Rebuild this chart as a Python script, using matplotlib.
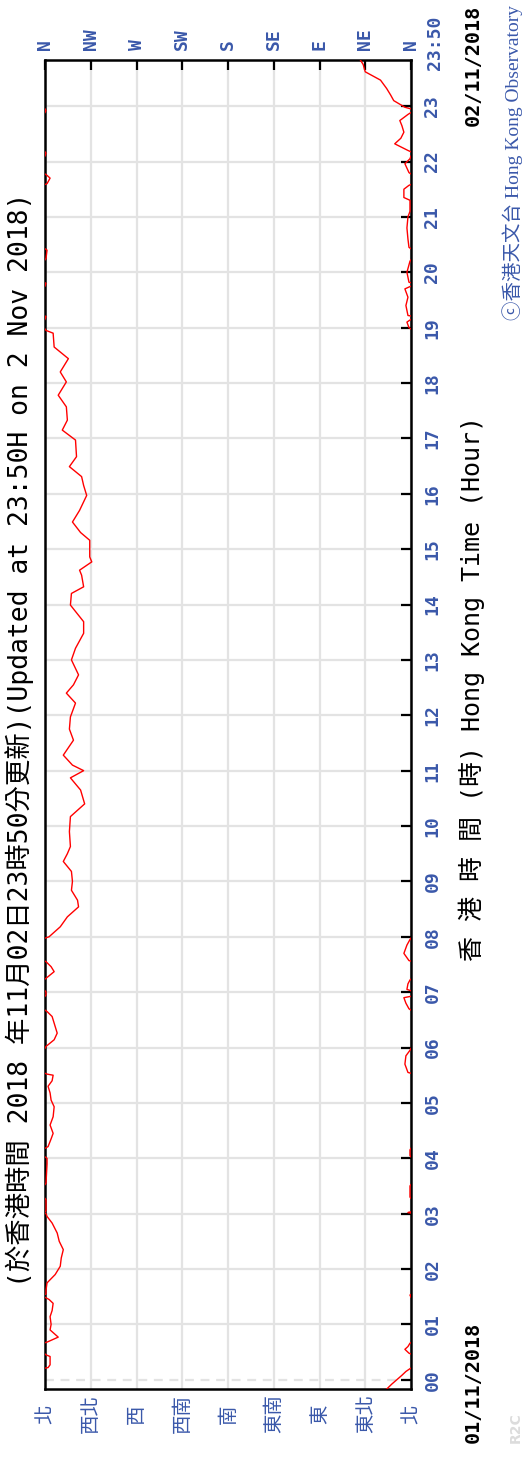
import numpy as np
import matplotlib
matplotlib.use('Agg')
from matplotlib import pyplot as plt
from matplotlib import transforms

# wind direction (deg) against Hong Kong time (hour)
hours = [-0.17, -0.08, 0.00, 0.08, 0.15, 0.20, 0.22, 0.27, 0.42, 0.45,
         0.48, 0.55, 0.60, 0.66, 0.68, 0.77, 0.85, 0.90, 1.00, 1.14,
         1.25, 1.38, 1.45, 1.53, 1.55, 1.62, 1.75, 1.90, 2.05, 2.20,
         2.35, 2.50, 2.65, 2.83, 2.95, 3.00, 3.02, 3.05, 3.25, 3.30,
         3.50, 3.55, 3.90, 4.00, 4.05, 4.15, 4.21, 4.35, 4.45, 4.60,
         4.75, 4.93, 5.05, 5.18, 5.30, 5.40, 5.50, 5.52, 5.55, 5.70,
         5.85, 5.95, 6.02, 6.14, 6.26, 6.38, 6.56, 6.65, 6.70, 6.80,
         6.90, 6.95, 7.00, 7.05, 7.15, 7.22, 7.25, 7.37, 7.46, 7.55,
         7.57, 7.70, 7.85, 7.95, 8.00, 8.18, 8.36, 8.54, 8.66, 8.84,
         9.00, 9.18, 9.36, 9.50, 9.63, 9.90, 10.17, 10.40, 10.65, 10.87,
         11.00, 11.10, 11.28, 11.55, 11.75, 11.97, 12.22, 12.40, 12.55, 12.73,
         13.00, 13.21, 13.48, 13.69, 13.99, 14.20, 14.32, 14.53, 14.62, 14.77,
         14.86, 15.16, 15.30, 15.49, 15.70, 15.97, 16.15, 16.31, 16.49, 16.67,
         16.97, 17.15, 17.33, 17.57, 17.78, 18.02, 18.20, 18.44, 18.65, 18.90,
         18.95, 19.00, 19.10, 19.20, 19.22, 19.40, 19.55, 19.70, 19.80, 19.82,
         20.00, 20.20, 20.25, 20.40, 20.45, 20.60, 20.80, 21.00, 21.10, 21.30,
         21.35, 21.50, 21.57, 21.60, 21.70, 21.75, 21.80, 21.96, 22.05, 22.15,
         22.20, 22.32, 22.42, 22.53, 22.65, 22.74, 22.85, 22.92, 22.98, 23.10,
         23.20, 23.32, 23.47, 23.55, 23.62, 23.75, 23.84]
wind_dir = [24, 19, 14, 9, 5, 1, 357, 355, 355, 359,
            2, 6, 3, 1, 358, 347, 352, 355, 354, 355,
            353, 352, 356, 1, 359, 359, 358, 350, 345, 344,
            342, 346, 348, 353, 358, 359, 3, 359, 359, 1,
            1, 359, 358, 358, 1, 1, 357, 354, 352, 355,
            352, 351, 354, 355, 357, 353, 352, 358, 3, 6,
            5, 1, 359, 351, 348, 350, 353, 358, 2, 5,
            7, 359, 359, 4, 3, 1, 359, 351, 354, 359,
            2, 7, 4, 1, 356, 345, 338, 327, 328, 334,
            333, 334, 342, 338, 335, 336, 335, 321, 325, 335,
            322, 333, 342, 332, 336, 335, 330, 339, 332, 327,
            334, 330, 322, 322, 335, 334, 322, 324, 326, 314,
            316, 316, 325, 333, 326, 319, 322, 324, 336, 329,
            330, 343, 338, 339, 347, 339, 345, 337, 351, 352,
            359, 2, 4, 359, 3, 5, 3, 6, 359, 2,
            4, 1, 359, 358, 2, 3, 4, 3, 1, 1,
            7, 7, 2, 358, 355, 358, 2, 6, 1, 359,
            3, 16, 10, 7, 9, 11, 3, 359, 6, 17,
            20, 24, 30, 38, 45, 47, 50]

dir_deg = [360, 315, 270, 225, 180, 135, 90, 45, 0]
dir_en = ['N', 'NW', 'W', 'SW', 'S', 'SE', 'E', 'NE', 'N']
dir_zh = ['北', '西北', '西', '西南', '南', '東南', '東', '東北', '北']
hour_ticks = list(range(24))
hour_labels = ['%02d' % h for h in hour_ticks]

title = '(於香港時間 2018 年11月02日23時50分更新)(Updated at 23:50H on 2 Nov 2018)'
xlab = '香 港 時 間 (時) Hong Kong Time (Hour)'

BLUE = '#3a58aa'
W, H = 524, 1460
MONO = ['DejaVu Sans Mono', 'Noto Sans CJK TC']


def fx(px):
    return px / W


def fy(py):
    return 1 - py / H


# break the line where it wraps round north
xs, ys = [], []
for i in range(len(hours)):
    if i > 0 and abs(wind_dir[i] - wind_dir[i - 1]) > 180:
        tm = (hours[i] + hours[i - 1]) / 2
        if wind_dir[i - 1] > 180:
            xs += [360, np.nan, 0]
        else:
            xs += [0, np.nan, 360]
        ys += [tm, np.nan, tm]
    xs.append(wind_dir[i])
    ys.append(hours[i])

fig = plt.figure(figsize=(W / 100, H / 100), dpi=100, facecolor='white')
ax = fig.add_axes([fx(45), 1 - 1389 / H, 366 / W, 1329 / H])
ax.set_xlim(360, 0)
ax.set_ylim(-10 / 60, 23 + 50 / 60)

ax.plot(xs, ys, color='#ff0000', lw=1.0, zorder=3)

# direction ticks on top, English labels
ax.xaxis.tick_top()
ax.set_xticks(dir_deg, labels=dir_en)
ax.tick_params(axis='x', direction='in', length=7, width=1.6, color='black',
               labelcolor=BLUE, labelsize=13, labelrotation=90, pad=7)
# hour ticks on the right
ax.yaxis.tick_right()
ax.set_yticks(hour_ticks, labels=hour_labels)
ax.tick_params(axis='y', direction='in', length=7, width=1.6, color='black',
               labelcolor=BLUE, labelsize=13, labelrotation=90, pad=9)
for lbl in ax.get_xticklabels() + ax.get_yticklabels():
    lbl.set_fontfamily('DejaVu Sans Mono')
    lbl.set_fontweight('bold')
for lbl in ax.get_yticklabels():
    lbl.set_va('center')

ax.grid(True, color='#e3e3e3', lw=1.6, zorder=0)
ax.yaxis.get_gridlines()[0].set_linestyle((0, (4, 3)))
ax.set_axisbelow(True)
for sp in ax.spines.values():
    sp.set_linewidth(1.8)
    sp.set_color('black')

# Chinese direction names under the axes
btrans = transforms.blended_transform_factory(ax.transData, ax.transAxes)
for d, z in zip(dir_deg, dir_zh):
    ax.text(d, -0.0188, z, transform=btrans, rotation=90, ha='center', va='center',
            color=BLUE, fontsize=14, family='Noto Sans CJK TC', clip_on=False)

# last time label
rtrans = transforms.blended_transform_factory(ax.transAxes, ax.transData)
ax.text(1.0 + 24 / 366, 23 + 50 / 60 - 10 / 55.4, '23:50', transform=rtrans,
        rotation=90, ha='center', va='bottom', color=BLUE, fontsize=13,
        family='DejaVu Sans Mono', fontweight='bold', clip_on=False)

fig.text(fx(20), fy(740), title, rotation=90, ha='center', va='center',
         fontsize=19, family=MONO, color='black')
fig.text(fx(472), fy(688), xlab, rotation=90, ha='center', va='center',
         fontsize=18, family=MONO, color='black')
fig.text(fx(473), fy(1443), '01/11/2018', rotation=90, ha='center', va='bottom',
         fontsize=14.5, family='DejaVu Sans Mono', fontweight='bold', color='black')
fig.text(fx(473), fy(5), '02/11/2018', rotation=90, ha='center', va='top',
         fontsize=14.5, family='DejaVu Sans Mono', fontweight='bold', color='black')
fig.text(fx(513), fy(5), 'ⓒ香港天文台 Hong Kong Observatory', rotation=90,
         ha='center', va='top', fontsize=14, color=BLUE,
         family=['Liberation Serif', 'DejaVu Sans', 'Noto Sans CJK TC'])
fig.text(fx(516), fy(1443), 'R2C', rotation=90, ha='center', va='bottom',
         fontsize=10, color='#dcdcdc', fontweight='bold', family='DejaVu Sans')

fig.savefig('out.png', dpi=100, facecolor='white')
